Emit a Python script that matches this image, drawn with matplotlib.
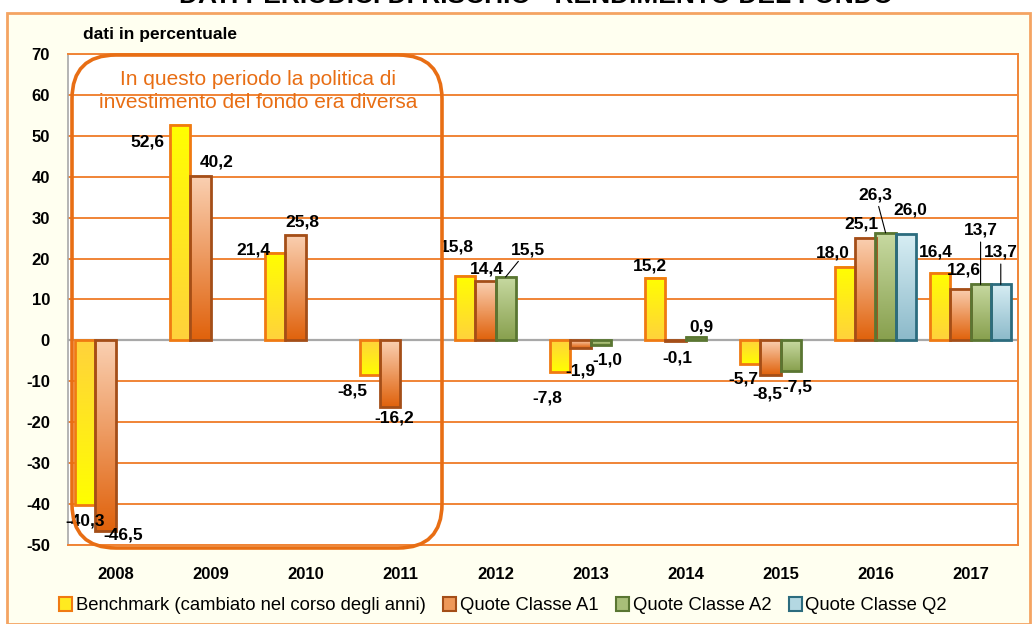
import numpy as np
import matplotlib
matplotlib.use("Agg")
import matplotlib.pyplot as plt
from matplotlib.colors import LinearSegmentedColormap
from matplotlib.patches import Patch, Rectangle, FancyBboxPatch
from matplotlib.transforms import IdentityTransform

years = ["2008", "2009", "2010", "2011", "2012", "2013", "2014", "2015", "2016", "2017"]
benchmark = [-40.3, 52.6, 21.4, -8.5, 15.8, -7.8, 15.2, -5.7, 18.0, 16.4]
classe_a1 = [-46.5, 40.2, 25.8, -16.2, 14.4, -1.9, -0.1, -8.5, 25.1, 12.6]
classe_a2 = [None, None, None, None, 15.5, -1.0, 0.9, -7.5, 26.3, 13.7]
classe_q2 = [None, None, None, None, None, None, None, None, 26.0, 13.7]
series_names = ["Benchmark (cambiato nel corso degli anni)", "Quote Classe A1",
                "Quote Classe A2", "Quote Classe Q2"]
yticks = list(range(-50, 71, 10))

# label offsets in pixels from the bar end (layout only)
label_off = [
    [(0, -16), (-33, -17), (-22, 3), (-18, -16), (-8, 29), (-13, -26), (-5, 12), (-7, -15), (-12, 14), (-4, 21)],
    [(18, -4), (16, 14), (7, 13), (4, -11), (1, 12), (0, -23), (2, -17), (-3, -19), (-4, 14), (3, 19)],
    [None, None, None, None, (22, 27), (7, -15), (6, 10), (7, -16), (-10, 38), (0, 54)],
    [None] * 8 + [(5, 24), (0, 32)],
]
leader = {(2, 4), (2, 8), (2, 9), (3, 9)}

# (colour near zero / bottom, colour at end / top, edge)
styles = [
    ("#FFD23C", "#FFFF00", "#F07A12"),
    ("#E0620C", "#FAD0B2", "#A44E18"),
    ("#88A04E", "#C8DAA2", "#5A7632"),
    ("#8CBACA", "#D8EEF4", "#2C6C7E"),
]
legend_face = ["#FFEA20", "#EE9858", "#A8BE78", "#B4D8E2"]

plt.rcParams["font.family"] = ["Liberation Sans", "DejaVu Sans"]

fig = plt.figure(figsize=(10.35, 6.24), dpi=100, facecolor="white")
fig.patches.append(Rectangle((7, 0), 1023, 611, transform=IdentityTransform(),
                             facecolor="#FFFFF0", edgecolor="#F4A462", lw=2, zorder=-1))
fig.text(0.518, 1 + 4 / 624, "DATI PERIODICI DI RISCHIO - RENDIMENTO DEL FONDO", ha="center",
         va="center", fontsize=19, fontweight="bold")

ax = fig.add_axes([68 / 1035, 1 - 545 / 624, 950 / 1035, 491 / 624])
ax.set_facecolor("white")

w = 0.2125
data = [benchmark, classe_a1, classe_a2, classe_q2]
x = np.arange(len(years))
grad = np.linspace(0, 1, 128).reshape(-1, 1)
for s, vals in enumerate(data):
    c0, c1, ec = styles[s]
    cmap = LinearSegmentedColormap.from_list(f"g{s}", [c0, c1])
    for i, v in enumerate(vals):
        if v is None:
            continue
        xc = x[i] + (s - 1.5) * w
        lo, hi = min(0, v), max(0, v)
        g = grad
        if s == 0 and v < 0:
            g = grad[::-1]
        ax.imshow(g, extent=[xc - w / 2, xc + w / 2, lo, hi], origin="lower",
                  aspect="auto", cmap=cmap, zorder=2, interpolation="bilinear")
        ax.bar(xc, v, width=w, fill=False, edgecolor=ec, lw=2, zorder=3)
        dx, dy = label_off[s][i]
        txt = f"{v:.1f}".replace(".", ",")
        arrow = dict(arrowstyle="-", color="black", lw=0.8, shrinkA=1, shrinkB=0) if (s, i) in leader else None
        ax.annotate(txt, (xc, v), xytext=(dx, dy), textcoords="offset pixels",
                    ha="center", va="center", fontsize=12.5, fontweight="bold",
                    arrowprops=arrow, zorder=6)

ax.set_xlim(-0.5, len(years) - 0.5)
ax.set_ylim(-50, 70)
ax.set_yticks(yticks)
ax.set_yticklabels([str(t) for t in yticks], fontsize=12, fontweight="bold")
ax.set_xticks(x)
ax.set_xticklabels(years, fontsize=12, fontweight="bold")
ax.tick_params(axis="y", length=0, pad=13)
ax.tick_params(axis="x", length=0, pad=16)
for t in yticks:
    if t != 0:
        ax.axhline(t, color="#F08436", lw=1.4, zorder=1)
ax.axhline(0, color="#A8A8A8", lw=1.6, zorder=1)
ax.spines["left"].set_color("#A8A8A8")
ax.spines["left"].set_linewidth(1.2)
for side in ["right", "bottom", "top"]:
    ax.spines[side].set_color("#F08436")
    ax.spines[side].set_linewidth(1.4)

fig.text(83 / 1035, 1 - 35 / 624, "dati in percentuale", ha="left", va="center",
         fontsize=12.5, fontweight="bold")

box = FancyBboxPatch((72, 624 - 548), 370, 493, boxstyle="round,pad=0,rounding_size=44",
                     transform=IdentityTransform(), facecolor="none", edgecolor="#E86E14",
                     lw=2.6, zorder=5)
fig.patches.append(box)
fig.text(258 / 1035, 1 - 91 / 624, "In questo periodo la politica di\ninvestimento del fondo era diversa",
         ha="center", va="center", fontsize=15, color="#E86E14", linespacing=1.3)

handles = [Patch(facecolor=legend_face[k], edgecolor=styles[k][2], lw=1.5) for k in range(4)]
fig.legend(handles, series_names, loc="center left", bbox_to_anchor=(0.05, 0.03), ncol=4,
           frameon=False, fontsize=13.3, handlelength=0.7, handleheight=0.8,
           handletextpad=0.2, columnspacing=0.95, borderaxespad=0)

fig.savefig("out.png", dpi=100)
